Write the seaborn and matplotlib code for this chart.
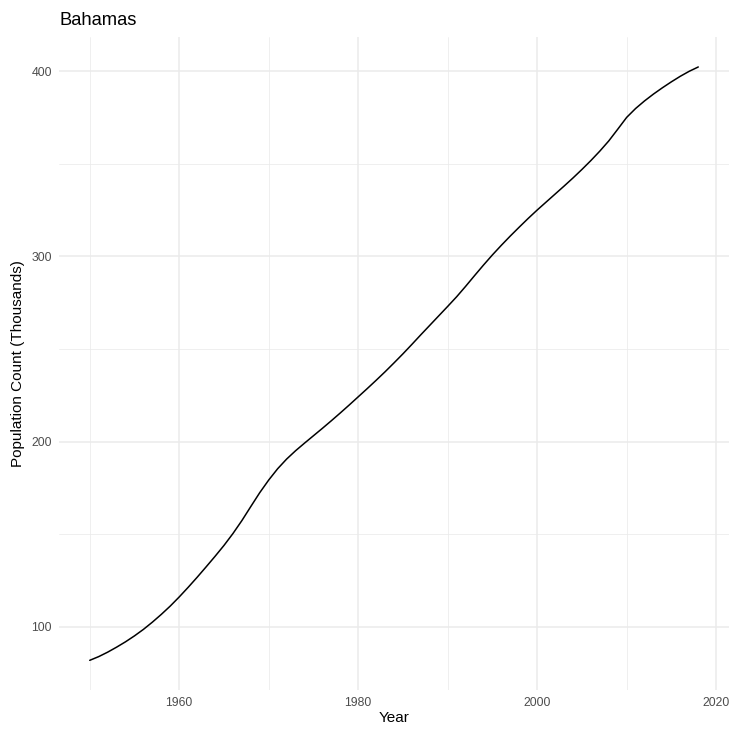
import numpy as np
import pandas as pd
import matplotlib
matplotlib.use("Agg")
import matplotlib.pyplot as plt
import seaborn as sns
from matplotlib.ticker import MultipleLocator

# data (population in thousands)
years = list(range(1950, 2019))
population = [
    82.0, 84.0, 86.4, 89.1, 92.0, 95.2, 98.7, 102.6, 106.8, 111.3,
    116.2, 121.4, 126.8, 132.4, 138.1, 144.0, 150.4, 157.4, 165.0, 172.5,
    179.3, 185.4, 190.6, 195.1, 199.2, 203.2, 207.2, 211.3, 215.5, 219.8,
    224.2, 228.6, 233.1, 237.7, 242.5, 247.4, 252.5, 257.7, 262.8, 267.9,
    273.0, 278.2, 283.8, 289.6, 295.3, 300.8, 306.0, 311.0, 315.8, 320.5,
    325.0, 329.3, 333.6, 337.9, 342.3, 346.9, 351.7, 356.8, 362.3, 368.6,
    375.0, 379.8, 383.9, 387.6, 391.0, 394.2, 397.2, 399.9, 402.2,
]
country = "Bahamas"

df = pd.DataFrame({"Year": years, "Population": population})

sns.set_theme(style="white")
plt.rcParams["font.family"] = ["Liberation Sans", "DejaVu Sans"]

fig = plt.figure(figsize=(7.34, 7.32), dpi=100)
ax = fig.add_axes([59.3 / 734, 1 - 690 / 732, (728.7 - 59.3) / 734, (690 - 37.3) / 732])

sns.lineplot(data=df, x="Year", y="Population", ax=ax, color="black", linewidth=1.1)

# ggplot style expansion of 5%
xr = max(years) - min(years)
yr = max(population) - min(population)
ax.set_xlim(min(years) - 0.05 * xr, max(years) + 0.05 * xr)
ax.set_ylim(min(population) - 0.05 * yr, max(population) + 0.05 * yr)

ax.xaxis.set_major_locator(MultipleLocator(20))
ax.xaxis.set_minor_locator(MultipleLocator(10))
ax.yaxis.set_major_locator(MultipleLocator(100))
ax.yaxis.set_minor_locator(MultipleLocator(50))

ax.grid(which="major", color="#EBEBEB", linewidth=1.1)
ax.grid(which="minor", color="#EBEBEB", linewidth=0.55)
ax.set_axisbelow(True)
for s in ax.spines.values():
    s.set_visible(False)

ax.tick_params(which="both", length=0, pad=5.3, labelsize=8.8, labelcolor="#4D4D4D")

ax.set_xlabel("Year", fontsize=11, color="black")
ax.set_ylabel("Population Count (Thousands)", fontsize=11, color="black")
ax.xaxis.label.set_va("center")
ax.yaxis.label.set_va("center")
ax.xaxis.set_label_coords(0.5, (690 - 718) / 652.7)
ax.yaxis.set_label_coords((18 - 59.3) / 669.4, 0.5)

ax.set_title(country, loc="left", fontsize=13.2, color="black", pad=8.9)

fig.savefig("out.png", dpi=100, facecolor="white")
